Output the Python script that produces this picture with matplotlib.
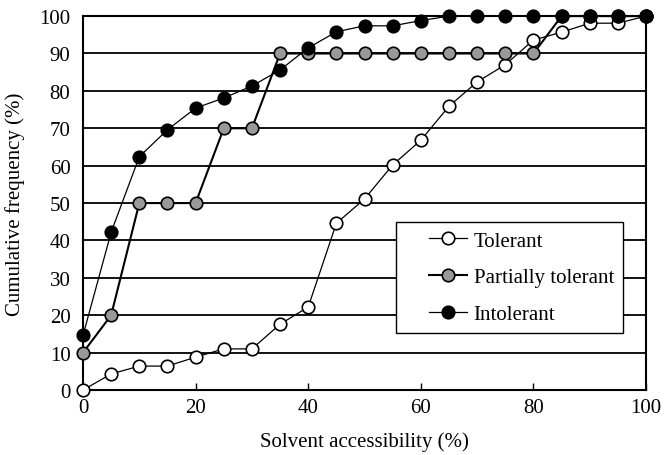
import numpy as np
import matplotlib
matplotlib.use('Agg')
from matplotlib import pyplot as plt
from matplotlib.legend_handler import HandlerLine2D

plt.rcParams['font.family'] = ['Liberation Serif', 'DejaVu Serif']

# data
accessibility = [0, 5, 10, 15, 20, 25, 30, 35, 40, 45, 50,
                 55, 60, 65, 70, 75, 80, 85, 90, 95, 100]
tolerant = [0, 4.3, 6.4, 6.4, 8.8, 11, 11, 17.6, 22.2, 44.6, 51.1,
            60.2, 66.8, 75.9, 82.4, 87, 93.6, 95.7, 98.1, 98.1, 100]
partially = [10, 20, 50, 50, 50, 70, 70, 90, 90, 90, 90,
             90, 90, 90, 90, 90, 90, 100, 100, 100, 100]
intolerant = [14.6, 42.2, 62.4, 69.6, 75.4, 78.1, 81.3, 85.6, 91.5, 95.8, 97.4,
              97.4, 98.8, 100, 100, 100, 100, 100, 100, 100, 100]
yticks = list(range(0, 101, 10))
xticks = [0, 20, 40, 60, 80, 100]

fig = plt.figure(figsize=(6.64, 4.56), dpi=100)
ax = fig.add_axes([0.125, 0.1425, 0.848, 0.82])

for y in yticks[1:-1]:
    ax.axhline(y, color='black', lw=1.3, zorder=1)

ax.plot(accessibility, tolerant, '-o', color='black', lw=0.9, ms=9,
        mfc='white', mec='black', mew=1.2, label='Tolerant', clip_on=False, zorder=3)
ax.plot(accessibility, partially, '-o', color='black', lw=1.5, ms=9,
        mfc='#999999', mec='black', mew=1.2, label='Partially tolerant', clip_on=False, zorder=4)
ax.plot(accessibility, intolerant, '-o', color='black', lw=0.9, ms=9,
        mfc='black', mec='black', mew=1.2, label='Intolerant', clip_on=False, zorder=5)

ax.set_xlim(0, 100)
ax.set_ylim(0, 100)
ax.set_xticks(xticks)
ax.set_yticks(yticks)
ax.tick_params(axis='x', direction='in', length=5, width=1, labelsize=15, pad=6)
ax.tick_params(axis='y', length=0, labelsize=15, pad=9)
for s in ax.spines.values():
    s.set_linewidth(1.5)

ax.set_xlabel('Solvent accessibility (%)', fontsize=15, labelpad=10)
ax.set_ylabel('Cumulative frequency (%)', fontsize=15, labelpad=10)

# legend handles: short line starting a bit inside the box, like the original
hm = {l: HandlerLine2D(xpad=1.15) for l in ax.get_lines()}
leg = ax.legend(loc='upper right', bbox_to_anchor=(0.959, 0.449), borderaxespad=0,
                fontsize=15, frameon=True, fancybox=False, handler_map=hm,
                handlelength=3.0, handletextpad=0.3, borderpad=0.43, labelspacing=0.82)
leg.get_frame().set_edgecolor('black')
leg.get_frame().set_linewidth(1.0)
leg.get_frame().set_alpha(1)

plt.savefig('out.png', dpi=100)
